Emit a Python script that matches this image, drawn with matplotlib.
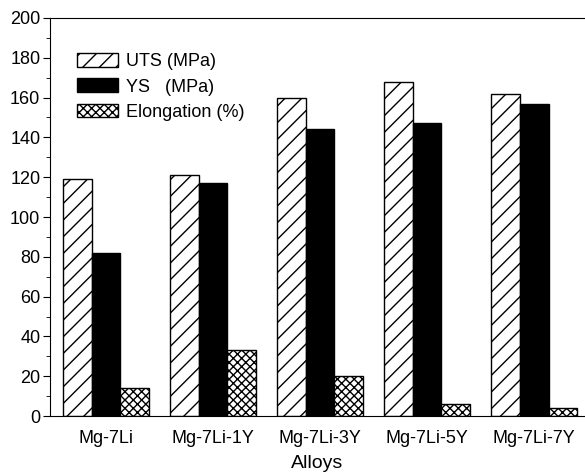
import matplotlib
matplotlib.use("Agg")
import matplotlib.pyplot as plt
import numpy as np

# data
alloys = ["Mg-7Li", "Mg-7Li-1Y", "Mg-7Li-3Y", "Mg-7Li-5Y", "Mg-7Li-7Y"]
uts = [119, 121, 160, 168, 162]
ys = [82, 117, 144, 147, 157]
elong = [14, 33, 20, 6, 4]

plt.rcParams['font.family'] = ['Liberation Sans', 'DejaVu Sans']
plt.rcParams['hatch.linewidth'] = 1.0

fig = plt.figure(figsize=(5.85, 4.73), dpi=100)
ax = fig.add_axes([50 / 585, 57 / 473, 1 - 50 / 585, 398 / 473])

x = np.arange(len(alloys))
w = 0.27
ax.bar(x - w, uts, w, color="white", edgecolor="black", hatch="//", lw=1, label="UTS (MPa)")
ax.bar(x, ys, w, color="black", edgecolor="black", lw=1, label="YS   (MPa)")
ax.bar(x + w, elong, w, color="white", edgecolor="black", hatch="xxxx", lw=1, label="Elongation (%)")

ax.set_ylim(0, 200)
ax.set_xlim(-0.523, 4.476)
ax.set_yticks(np.arange(0, 201, 20))
ax.set_yticks(np.arange(10, 200, 20), minor=True)
ax.tick_params(axis="y", which="major", direction="out", length=5, labelsize=13, pad=2)
ax.tick_params(axis="y", which="minor", direction="out", length=3)
ax.set_xticks(x)
ax.set_xticklabels(alloys)
ax.tick_params(axis="x", length=0, labelsize=13, pad=10)
ax.spines["right"].set_visible(False)
ax.set_xlabel("Alloys", fontsize=14, labelpad=6)

ax.legend(loc="upper left", bbox_to_anchor=(0.05, 0.912), frameon=False, fontsize=13,
          handlelength=2.3, handleheight=0.8, labelspacing=0.45, handletextpad=0.4,
          borderaxespad=0, borderpad=0)

fig.savefig("out.png", dpi=100)
